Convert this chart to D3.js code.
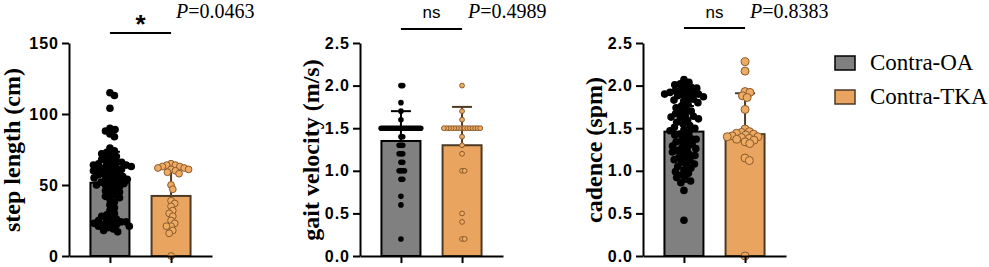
<!DOCTYPE html>
<html>
<head>
<meta charset="utf-8">
<script src="https://cdn.jsdelivr.net/npm/d3@7"></script>
<style>
  body { margin: 0; background: #fff; }
  svg { display: block; }
</style>
</head>
<body>
<script>
const groups = ['Contra-OA', 'Contra-TKA']

// step length (cm)
const stepOA = [115, 113, 104, 90, 89, 88, 86, 84, 76, 74, 73, 72, 71, 70,
  69, 68, 67, 66, 66, 65, 65, 64, 64, 63, 63, 62, 62, 61, 61, 60, 60,
  59, 58, 58, 57, 56, 56, 55, 55, 54, 54, 53, 52, 52, 51, 51, 50, 50,
  49, 48, 47, 46, 45, 44, 43, 42, 41, 40, 38, 36, 34, 32, 30,
  29, 28, 27, 26, 25, 25, 24, 24, 23, 23, 22, 22, 21, 21, 20, 19, 18, 17]
const stepTKA = [65, 64, 64, 63, 63, 62, 62, 61, 61, 60, 59, 58, 50, 47,
  39, 37, 35, 32, 30, 28, 25, 23, 21, 21, 18, 16, 0]
const stepMean = [51.6, 42.3]
const stepSD = [21.8, 21.0]

// gait velocity (m/s)
const velOA = [2.0, 2.0, 1.8, 1.7, 1.6,
  1.5, 1.5, 1.5, 1.5, 1.5, 1.5, 1.5, 1.5, 1.5, 1.5, 1.5, 1.5, 1.5, 1.5, 1.5, 1.5, 1.5, 1.5, 1.5, 1.5, 1.5, 1.5, 1.5,
  1.4, 1.4, 1.3, 1.3, 1.3, 1.2, 1.2, 1.2, 1.1, 1.1, 1.0, 1.0, 1.0, 1.0, 0.9, 0.9, 0.7, 0.6, 0.2]
const velTKA = [2.0, 1.7, 1.6,
  1.5, 1.5, 1.5, 1.5, 1.5, 1.5, 1.5, 1.5, 1.5, 1.5, 1.5, 1.5, 1.5, 1.5, 1.5,
  1.4, 1.3, 1.2, 1.0, 1.0, 0.5, 0.4, 0.2, 0.2]
const velMean = [1.35, 1.30]
const velSD = [0.35, 0.45]

// cadence (spm)
const cadOA = [2.07, 2.04, 2.02, 2.01, 1.99, 1.98, 1.97, 1.95, 1.94, 1.93, 1.92, 1.91, 1.90, 1.90,
  1.89, 1.88, 1.87, 1.86, 1.84, 1.83, 1.82, 1.80, 1.78, 1.76, 1.74, 1.72, 1.70, 1.69,
  1.67, 1.65, 1.64, 1.63, 1.62, 1.61, 1.59, 1.57, 1.55, 1.53, 1.51, 1.50, 1.48, 1.47,
  1.45, 1.43, 1.42, 1.40, 1.38, 1.37, 1.35, 1.34, 1.32, 1.31, 1.29, 1.28, 1.26, 1.25,
  1.24, 1.22, 1.21, 1.19, 1.18, 1.16, 1.15, 1.13, 1.12, 1.10, 1.08, 1.07, 1.05, 1.03,
  1.01, 0.99, 0.97, 0.95, 0.92, 0.90, 0.88, 0.86, 0.77, 0.42]
const cadTKA = [2.28, 2.17, 1.93, 1.92, 1.88, 1.86, 1.72,
  1.49, 1.46, 1.45, 1.44, 1.43, 1.42, 1.41, 1.40, 1.40, 1.39, 1.38, 1.37, 1.36, 1.34, 1.32,
  1.15, 1.12, 0]
const cadMean = [1.46, 1.43]
const cadSD = [0.30, 0.48]

const yLabels = ['step length (cm)', 'gait velocity (m/s)', 'cadence (spm)']
const stepTicks = [0, 50, 100, 150]
const ratioTicks = [0, 0.5, 1.0, 1.5, 2.0, 2.5]
const sigMarks = ['*', 'ns', 'ns']
const pValues = ['0.0463', '0.4989', '0.8383']

const width = 989
const height = 267
const plotTop = 43
const plotBottom = 256
const axisLen = 143
const barWidth = 39

const grayFill = '#808080'
const orangeFill = '#e9a45f'
const orangeLine = '#4d3a26'
const dotOrange = '#eeab63'
const dotOrangeLine = '#8a5a2c'

const svg = d3.select('body').append('svg')
  .attr('width', width)
  .attr('height', height)

// simple beeswarm, c = minimum spacing between dot centres (allows overlap)
const swarm = (values, y, c) => {
  const placed = []
  return values.map(v => {
    const py = y(v)
    const near = placed.filter(p => Math.abs(p.y - py) < c)
    const cands = [0]
    near.forEach(p => {
      const dx = Math.sqrt(c * c - (p.y - py) ** 2)
      cands.push(p.x + dx, p.x - dx)
    })
    const ok = cands.filter(x => near.every(p => (p.x - x) ** 2 + (p.y - py) ** 2 >= c * c - 1e-6))
    ok.sort((a, b) => Math.abs(a) - Math.abs(b))
    placed.push({ x: ok[0], y: py })
    return ok[0]
  })
}

const panels = [
  { x0: 69, label: yLabels[0], labelX: 20, domain: [0, 150], ticks: stepTicks, fmt: d3.format('d'),
    series: [stepOA, stepTKA], mean: stepMean, sd: stepSD, r: [3.8, 3.4], gap: [5.3, 4.6],
    sig: sigMarks[0], p: pValues[0], sigY: 33, pX: 176 },
  { x0: 360, label: yLabels[1], labelX: 319, domain: [0, 2.5], ticks: ratioTicks, fmt: d3.format('.1f'),
    series: [velOA, velTKA], mean: velMean, sd: velSD, r: [2.8, 2.4], gap: [1.8, 2.6],
    sig: sigMarks[1], p: pValues[1], sigY: 29, pX: 468 },
  { x0: 643, label: yLabels[2], labelX: 602, domain: [0, 2.5], ticks: ratioTicks, fmt: d3.format('.1f'),
    series: [cadOA, cadTKA], mean: cadMean, sd: cadSD, r: [3.8, 4.0], gap: [5.6, 5.0],
    sig: sigMarks[2], p: pValues[2], sigY: 28, pX: 750 }
]

panels.forEach(pn => {
  const g = svg.append('g')

  const y = d3.scaleLinear().domain(pn.domain).range([plotBottom, plotTop])
  const x = d3.scalePoint().domain(groups).range([pn.x0, pn.x0 + axisLen]).padding(0.67)

  // bars
  g.selectAll('rect.bar')
    .data(groups)
    .enter()
    .append('rect')
    .attr('x', d => x(d) - barWidth / 2)
    .attr('y', (d, i) => y(pn.mean[i]))
    .attr('width', barWidth)
    .attr('height', (d, i) => plotBottom - y(pn.mean[i]))
    .attr('fill', (d, i) => i === 0 ? grayFill : orangeFill)
    .attr('stroke', (d, i) => i === 0 ? '#000' : orangeLine)
    .attr('stroke-width', 2)

  // error bars (upper only)
  groups.forEach((grp, i) => {
    const cx = x(grp)
    const col = i === 0 ? '#000' : orangeLine
    g.append('line')
      .attr('x1', cx).attr('x2', cx)
      .attr('y1', y(pn.mean[i])).attr('y2', y(pn.mean[i] + pn.sd[i]))
      .attr('stroke', col).attr('stroke-width', 2)
    g.append('line')
      .attr('x1', cx - 10).attr('x2', cx + 10)
      .attr('y1', y(pn.mean[i] + pn.sd[i])).attr('y2', y(pn.mean[i] + pn.sd[i]))
      .attr('stroke', col).attr('stroke-width', 2)
  })

  // dots
  pn.series.forEach((vals, i) => {
    const offs = swarm(vals, y, pn.gap[i])
    g.append('g')
      .selectAll('circle')
      .data(vals)
      .enter()
      .append('circle')
      .attr('cx', (d, j) => x(groups[i]) + offs[j])
      .attr('cy', d => y(d))
      .attr('r', pn.r[i])
      .attr('fill', i === 0 ? '#000' : dotOrange)
      .attr('stroke', i === 0 ? '#000' : dotOrangeLine)
      .attr('stroke-width', i === 0 ? 0 : 1)
  })

  // axes
  const yAxis = g.append('g')
    .attr('transform', `translate(${pn.x0},0)`)
    .call(d3.axisLeft(y).tickValues(pn.ticks).tickFormat(pn.fmt).tickSize(7).tickSizeOuter(0).tickPadding(3))
  g.append('g')
    .attr('transform', `translate(0,${plotBottom})`)
    .call(d3.axisBottom(x).tickSize(7).tickSizeOuter(0).tickFormat(''))

  g.selectAll('.domain, .tick line')
    .attr('stroke', '#000')
    .attr('stroke-width', 2)
  yAxis.selectAll('text')
    .attr('font-family', 'Liberation Sans, Arial, sans-serif')
    .attr('font-weight', 'bold')
    .attr('font-size', 16)
    .attr('letter-spacing', 1)
    .attr('fill', '#000')

  // y label
  g.append('text')
    .attr('transform', `translate(${pn.labelX},150) rotate(-90)`)
    .attr('text-anchor', 'middle')
    .attr('font-family', 'Liberation Serif, Times New Roman, serif')
    .attr('font-weight', 'bold')
    .attr('font-size', 24)
    .text(pn.label)

  // significance
  g.append('line')
    .attr('x1', x(groups[0])).attr('x2', x(groups[1]))
    .attr('y1', pn.sigY).attr('y2', pn.sigY)
    .attr('stroke', '#000').attr('stroke-width', 2)
  const mid = (x(groups[0]) + x(groups[1])) / 2
  if (pn.sig === '*') {
    g.append('text')
      .attr('x', mid).attr('y', 33)
      .attr('text-anchor', 'middle')
      .attr('font-family', 'Liberation Sans, Arial, sans-serif')
      .attr('font-weight', 'bold')
      .attr('font-size', 26)
      .text(pn.sig)
  } else {
    g.append('text')
      .attr('x', mid).attr('y', 18)
      .attr('text-anchor', 'middle')
      .attr('font-family', 'Liberation Sans, Arial, sans-serif')
      .attr('font-size', 17)
      .text(pn.sig)
  }

  const pt = g.append('text')
    .attr('x', pn.pX).attr('y', 18)
    .attr('font-family', 'Liberation Serif, Times New Roman, serif')
    .attr('font-size', 20)
  pt.append('tspan').attr('font-style', 'italic').text('P')
  pt.append('tspan').text('=' + pn.p)
})

// legend
const legendColors = [[grayFill, '#000'], [orangeFill, orangeLine]]
const legend = svg.append('g').attr('transform', 'translate(835,56)')
legend.selectAll('rect')
  .data(groups)
  .enter()
  .append('rect')
  .attr('x', 0)
  .attr('y', (d, i) => i * 34)
  .attr('width', 20)
  .attr('height', 14)
  .attr('fill', (d, i) => legendColors[i][0])
  .attr('stroke', (d, i) => legendColors[i][1])
  .attr('stroke-width', 1.5)
legend.selectAll('text')
  .data(groups)
  .enter()
  .append('text')
  .attr('x', 35)
  .attr('y', (d, i) => i * 34 + 14)
  .attr('font-family', 'Liberation Serif, Times New Roman, serif')
  .attr('font-size', 23)
  .text(d => d)
</script>
</body>
</html>
